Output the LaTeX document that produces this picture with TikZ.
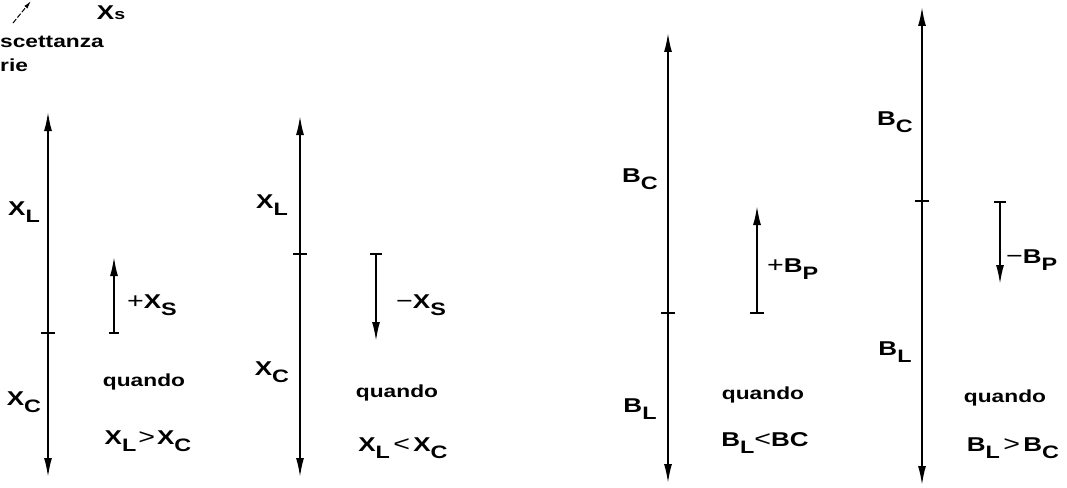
\documentclass[tikz,border=0pt]{standalone}
\usepackage{fontspec}
\setmainfont{Liberation Sans}[FakeStretch=1.3]
\usetikzlibrary{arrows.meta}
\newcommand{\lowsub}[1]{\raisebox{-7pt}{\fontsize{18}{18}\selectfont #1}}
\newcommand{\relsym}[1]{{\fontsize{22}{22}\selectfont\mdseries #1}}
\tikzset{
  x=1pt, y=-1pt,
  axis/.style={line width=1.7pt, {Latex[length=19pt,width=8pt]}-{Latex[length=19pt,width=8pt]}},
  vec/.style={line width=1.7pt, -{Latex[length=19pt,width=8pt]}},
  tick/.style={line width=1.7pt},
  lab/.style={font=\fontsize{20}{22}\selectfont\bfseries, inner sep=0pt},
  rel/.style={font=\fontsize{20}{22}\selectfont\bfseries, inner sep=0pt},
  qd/.style={font=\fontsize{17.5}{20}\selectfont\bfseries, inner sep=0pt}
}
\begin{document}
\begin{tikzpicture}
\useasboundingbox (0,0) rectangle (1067,487);

% top-left fragment
\coordinate (fa) at (13,23);
\coordinate (fb) at (31,1);
\draw[line width=1pt, dash pattern=on 5pt off 2pt, -{Latex[length=8pt,width=4pt]}] (fa) -- (fb);
\node[lab, anchor=center] (xs) at (111,13) {X{\fontsize{15}{15}\selectfont s}};
\node[qd, anchor=west] (scett) at (0,42) {scettanza};
\node[qd, anchor=west] (rie) at (0,65) {rie};

% ---------- Diagram 1 ----------
\coordinate (a1t) at (48,112);
\coordinate (a1b) at (48,477);
\coordinate (a1m) at (48,333);
\draw[axis] (a1t) -- (a1b);
\draw[tick] ([xshift=-7pt]a1m) -- ([xshift=7pt]a1m);
\node[lab] (l1a) at (24,212) {X\lowsub{L}};
\node[lab] (l1b) at (24,402) {X\lowsub{C}};
\coordinate (s1a) at (114,333);
\coordinate (s1b) at (114,257);
\draw[vec] (s1a) -- (s1b);
\draw[tick] ([xshift=-5pt]s1a) -- ([xshift=5pt]s1a);
\node[lab, anchor=west] (p1) at (127,305) {\relsym{+}X\lowsub{S}};
\node[qd] (q1) at (144,382) {quando};
\node[rel] (r1) at (148,441) {X\lowsub{L}\kern2pt\relsym{>}\kern2pt X\lowsub{C}};

% ---------- Diagram 2 ----------
\coordinate (a2t) at (300,116);
\coordinate (a2b) at (300,477);
\coordinate (a2m) at (300,254);
\draw[axis] (a2t) -- (a2b);
\draw[tick] ([xshift=-7pt]a2m) -- ([xshift=7pt]a2m);
\node[lab] (l2a) at (272,205) {X\lowsub{L}};
\node[lab] (l2b) at (272,372) {X\lowsub{C}};
\coordinate (s2a) at (376,254);
\coordinate (s2b) at (376,341);
\draw[vec] (s2a) -- (s2b);
\draw[tick] ([xshift=-6pt]s2a) -- ([xshift=6pt]s2a);
\node[lab, anchor=west] (p2) at (396,305) {\relsym{−}X\lowsub{S}};
\node[qd] (q2) at (397,393) {quando};
\node[rel] (r2) at (403,448) {X\lowsub{L}\,\relsym{<}\,X\lowsub{C}};

% ---------- Diagram 3 ----------
\coordinate (a3t) at (668,33);
\coordinate (a3b) at (668,483);
\coordinate (a3m) at (668,313);
\draw[axis] (a3t) -- (a3b);
\draw[tick] ([xshift=-7pt]a3m) -- ([xshift=7pt]a3m);
\node[lab] (l3a) at (640,179) {B\lowsub{C}};
\node[lab] (l3b) at (640,409) {B\lowsub{L}};
\coordinate (s3a) at (757,313);
\coordinate (s3b) at (757,206);
\draw[vec] (s3a) -- (s3b);
\draw[tick] ([xshift=-7pt]s3a) -- ([xshift=7pt]s3a);
\node[lab, anchor=west] (p3) at (767,269) {\relsym{+}B\lowsub{P}};
\node[qd] (q3) at (763,395) {quando};
\node[rel] (r3) at (765,443) {B\lowsub{L}\relsym{<}BC};

% ---------- Diagram 4 ----------
\coordinate (a4t) at (922,7);
\coordinate (a4b) at (922,485);
\coordinate (a4m) at (922,201);
\draw[axis] (a4t) -- (a4b);
\draw[tick] ([xshift=-7pt]a4m) -- ([xshift=7pt]a4m);
\node[lab] (l4a) at (895,122) {B\lowsub{C}};
\node[lab] (l4b) at (895,352) {B\lowsub{L}};
\coordinate (s4a) at (1000,202);
\coordinate (s4b) at (1000,284);
\draw[vec] (s4a) -- (s4b);
\draw[tick] ([xshift=-6pt]s4a) -- ([xshift=6pt]s4a);
\node[lab, anchor=west] (p4) at (1006,260) {\relsym{−}B\lowsub{P}};
\node[qd] (q4) at (1005,398) {quando};
\node[rel] (r4) at (1013,448) {B\lowsub{L}\,\relsym{>}\,B\lowsub{C}};
\end{tikzpicture}
\end{document}
